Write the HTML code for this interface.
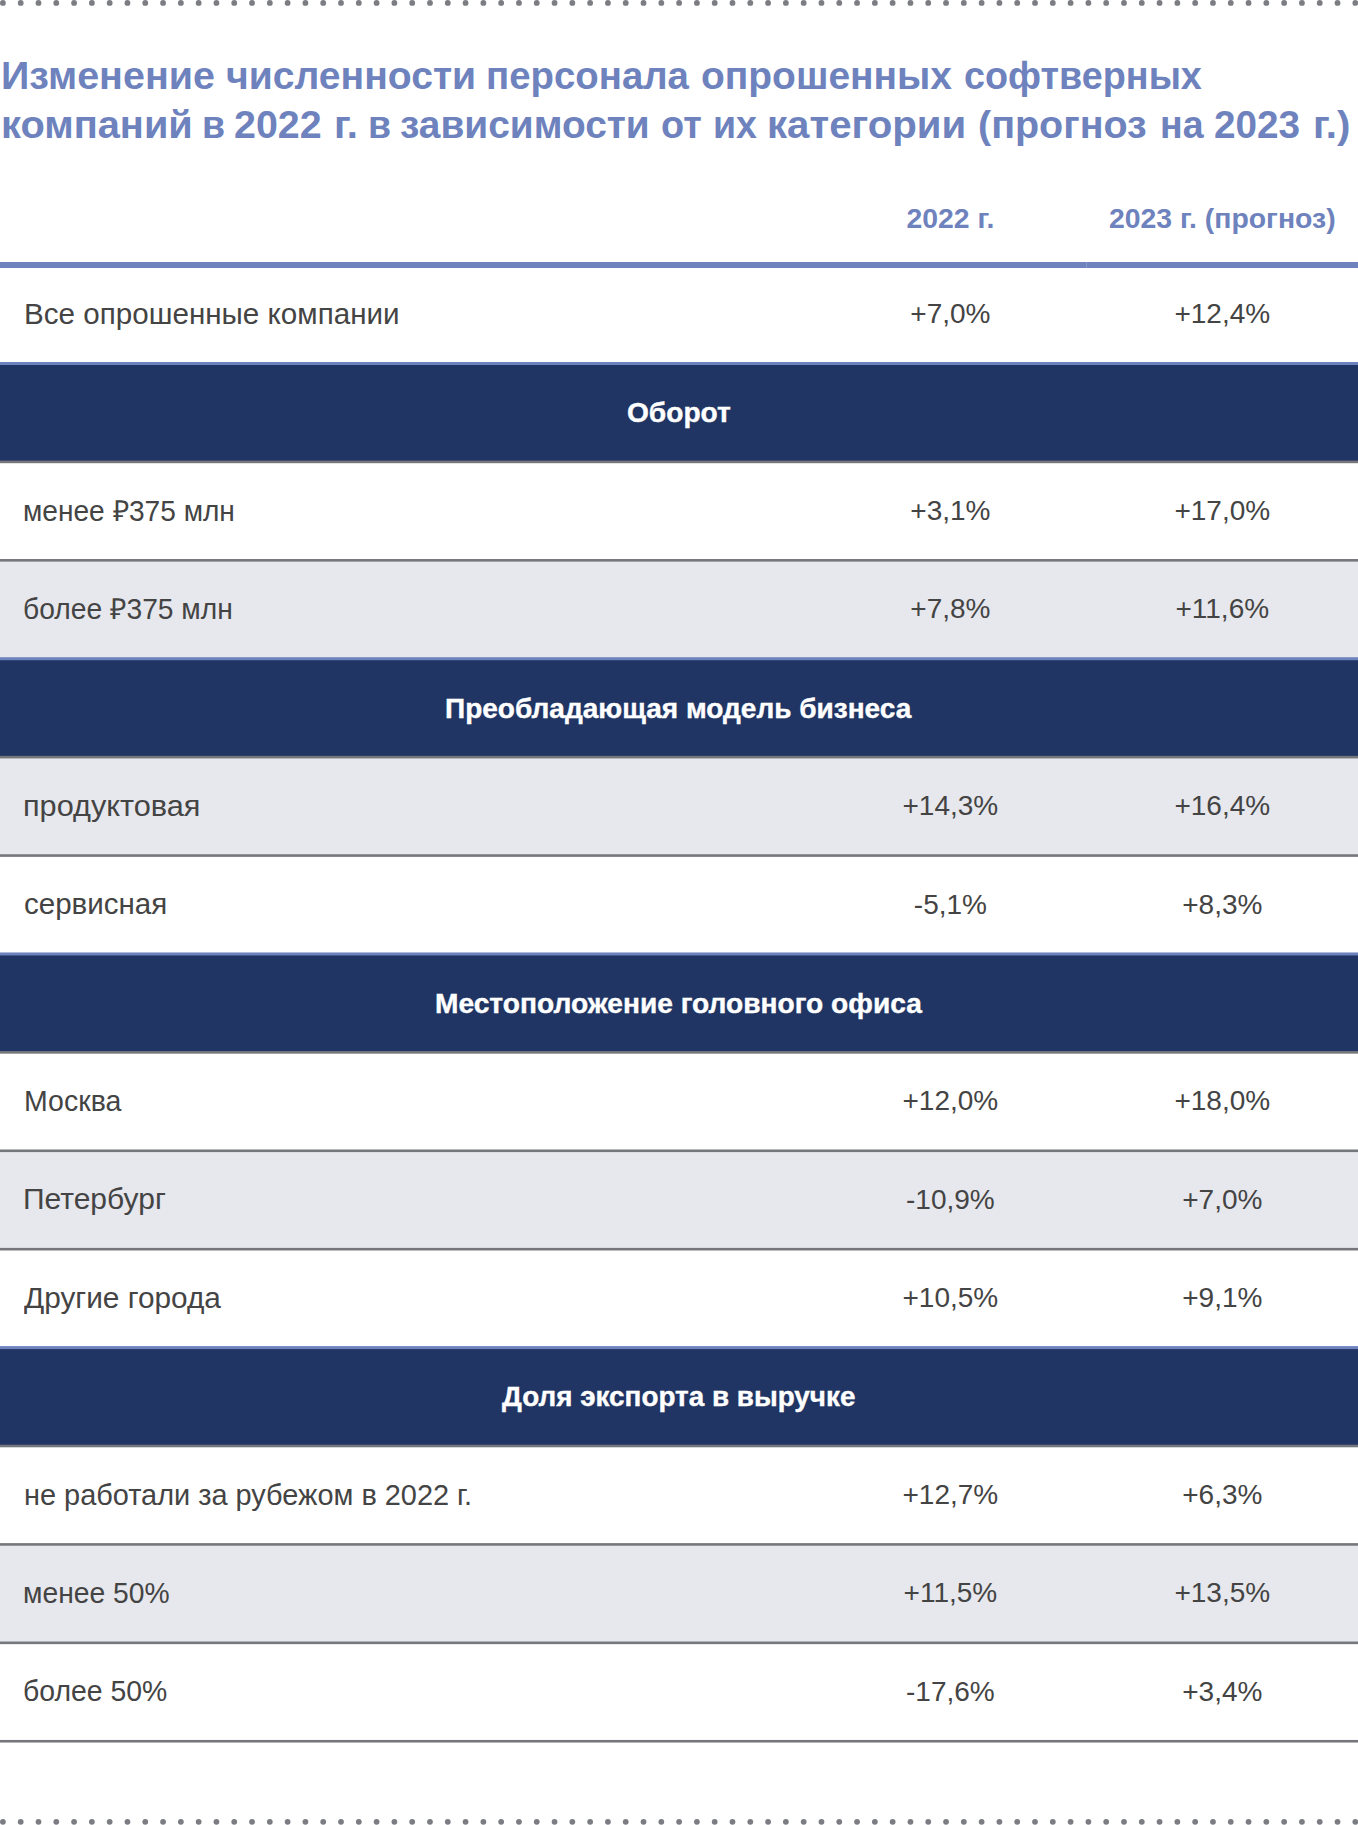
<!DOCTYPE html>
<html lang="ru">
<head>
<meta charset="utf-8">
<style>
html,body{margin:0;padding:0;}
body{width:1358px;height:1825px;position:relative;overflow:hidden;background:#fff;font-family:"Liberation Sans",sans-serif;}
.abs{position:absolute;}
.t{position:absolute;white-space:nowrap;line-height:0;height:0;transform-origin:0 0;}
.title{color:#6e82bd;font-weight:bold;font-size:38.7px;letter-spacing:0.0px;word-spacing:2.8px;left:0;}
.hd{color:#6e82bd;font-weight:bold;font-size:28.4px;width:400px;text-align:center;}
.lbl{color:#444444;font-size:29px;left:24px;}
.val{color:#444444;font-size:28px;width:300px;text-align:center;}
.sec{color:#fff;-webkit-text-stroke:0.4px #fff;font-weight:bold;font-size:28.5px;}
.bg{position:absolute;left:0;width:1358px;}
</style>
</head>
<body>
<svg class="abs" style="left:0;top:0" width="1358" height="1825"><g fill="#7b7d83"><circle cx="2.90" cy="2.9" r="2.9"/><circle cx="2.90" cy="1821.8" r="2.9"/><circle cx="20.70" cy="2.9" r="2.9"/><circle cx="20.70" cy="1821.8" r="2.9"/><circle cx="38.49" cy="2.9" r="2.9"/><circle cx="38.49" cy="1821.8" r="2.9"/><circle cx="56.29" cy="2.9" r="2.9"/><circle cx="56.29" cy="1821.8" r="2.9"/><circle cx="74.08" cy="2.9" r="2.9"/><circle cx="74.08" cy="1821.8" r="2.9"/><circle cx="91.88" cy="2.9" r="2.9"/><circle cx="91.88" cy="1821.8" r="2.9"/><circle cx="109.67" cy="2.9" r="2.9"/><circle cx="109.67" cy="1821.8" r="2.9"/><circle cx="127.47" cy="2.9" r="2.9"/><circle cx="127.47" cy="1821.8" r="2.9"/><circle cx="145.26" cy="2.9" r="2.9"/><circle cx="145.26" cy="1821.8" r="2.9"/><circle cx="163.06" cy="2.9" r="2.9"/><circle cx="163.06" cy="1821.8" r="2.9"/><circle cx="180.85" cy="2.9" r="2.9"/><circle cx="180.85" cy="1821.8" r="2.9"/><circle cx="198.65" cy="2.9" r="2.9"/><circle cx="198.65" cy="1821.8" r="2.9"/><circle cx="216.44" cy="2.9" r="2.9"/><circle cx="216.44" cy="1821.8" r="2.9"/><circle cx="234.24" cy="2.9" r="2.9"/><circle cx="234.24" cy="1821.8" r="2.9"/><circle cx="252.03" cy="2.9" r="2.9"/><circle cx="252.03" cy="1821.8" r="2.9"/><circle cx="269.82" cy="2.9" r="2.9"/><circle cx="269.82" cy="1821.8" r="2.9"/><circle cx="287.62" cy="2.9" r="2.9"/><circle cx="287.62" cy="1821.8" r="2.9"/><circle cx="305.42" cy="2.9" r="2.9"/><circle cx="305.42" cy="1821.8" r="2.9"/><circle cx="323.21" cy="2.9" r="2.9"/><circle cx="323.21" cy="1821.8" r="2.9"/><circle cx="341.00" cy="2.9" r="2.9"/><circle cx="341.00" cy="1821.8" r="2.9"/><circle cx="358.80" cy="2.9" r="2.9"/><circle cx="358.80" cy="1821.8" r="2.9"/><circle cx="376.60" cy="2.9" r="2.9"/><circle cx="376.60" cy="1821.8" r="2.9"/><circle cx="394.39" cy="2.9" r="2.9"/><circle cx="394.39" cy="1821.8" r="2.9"/><circle cx="412.19" cy="2.9" r="2.9"/><circle cx="412.19" cy="1821.8" r="2.9"/><circle cx="429.98" cy="2.9" r="2.9"/><circle cx="429.98" cy="1821.8" r="2.9"/><circle cx="447.78" cy="2.9" r="2.9"/><circle cx="447.78" cy="1821.8" r="2.9"/><circle cx="465.57" cy="2.9" r="2.9"/><circle cx="465.57" cy="1821.8" r="2.9"/><circle cx="483.37" cy="2.9" r="2.9"/><circle cx="483.37" cy="1821.8" r="2.9"/><circle cx="501.16" cy="2.9" r="2.9"/><circle cx="501.16" cy="1821.8" r="2.9"/><circle cx="518.96" cy="2.9" r="2.9"/><circle cx="518.96" cy="1821.8" r="2.9"/><circle cx="536.75" cy="2.9" r="2.9"/><circle cx="536.75" cy="1821.8" r="2.9"/><circle cx="554.55" cy="2.9" r="2.9"/><circle cx="554.55" cy="1821.8" r="2.9"/><circle cx="572.34" cy="2.9" r="2.9"/><circle cx="572.34" cy="1821.8" r="2.9"/><circle cx="590.13" cy="2.9" r="2.9"/><circle cx="590.13" cy="1821.8" r="2.9"/><circle cx="607.93" cy="2.9" r="2.9"/><circle cx="607.93" cy="1821.8" r="2.9"/><circle cx="625.73" cy="2.9" r="2.9"/><circle cx="625.73" cy="1821.8" r="2.9"/><circle cx="643.52" cy="2.9" r="2.9"/><circle cx="643.52" cy="1821.8" r="2.9"/><circle cx="661.32" cy="2.9" r="2.9"/><circle cx="661.32" cy="1821.8" r="2.9"/><circle cx="679.11" cy="2.9" r="2.9"/><circle cx="679.11" cy="1821.8" r="2.9"/><circle cx="696.91" cy="2.9" r="2.9"/><circle cx="696.91" cy="1821.8" r="2.9"/><circle cx="714.70" cy="2.9" r="2.9"/><circle cx="714.70" cy="1821.8" r="2.9"/><circle cx="732.50" cy="2.9" r="2.9"/><circle cx="732.50" cy="1821.8" r="2.9"/><circle cx="750.29" cy="2.9" r="2.9"/><circle cx="750.29" cy="1821.8" r="2.9"/><circle cx="768.09" cy="2.9" r="2.9"/><circle cx="768.09" cy="1821.8" r="2.9"/><circle cx="785.88" cy="2.9" r="2.9"/><circle cx="785.88" cy="1821.8" r="2.9"/><circle cx="803.68" cy="2.9" r="2.9"/><circle cx="803.68" cy="1821.8" r="2.9"/><circle cx="821.47" cy="2.9" r="2.9"/><circle cx="821.47" cy="1821.8" r="2.9"/><circle cx="839.27" cy="2.9" r="2.9"/><circle cx="839.27" cy="1821.8" r="2.9"/><circle cx="857.06" cy="2.9" r="2.9"/><circle cx="857.06" cy="1821.8" r="2.9"/><circle cx="874.86" cy="2.9" r="2.9"/><circle cx="874.86" cy="1821.8" r="2.9"/><circle cx="892.65" cy="2.9" r="2.9"/><circle cx="892.65" cy="1821.8" r="2.9"/><circle cx="910.45" cy="2.9" r="2.9"/><circle cx="910.45" cy="1821.8" r="2.9"/><circle cx="928.24" cy="2.9" r="2.9"/><circle cx="928.24" cy="1821.8" r="2.9"/><circle cx="946.04" cy="2.9" r="2.9"/><circle cx="946.04" cy="1821.8" r="2.9"/><circle cx="963.83" cy="2.9" r="2.9"/><circle cx="963.83" cy="1821.8" r="2.9"/><circle cx="981.63" cy="2.9" r="2.9"/><circle cx="981.63" cy="1821.8" r="2.9"/><circle cx="999.42" cy="2.9" r="2.9"/><circle cx="999.42" cy="1821.8" r="2.9"/><circle cx="1017.22" cy="2.9" r="2.9"/><circle cx="1017.22" cy="1821.8" r="2.9"/><circle cx="1035.01" cy="2.9" r="2.9"/><circle cx="1035.01" cy="1821.8" r="2.9"/><circle cx="1052.81" cy="2.9" r="2.9"/><circle cx="1052.81" cy="1821.8" r="2.9"/><circle cx="1070.60" cy="2.9" r="2.9"/><circle cx="1070.60" cy="1821.8" r="2.9"/><circle cx="1088.40" cy="2.9" r="2.9"/><circle cx="1088.40" cy="1821.8" r="2.9"/><circle cx="1106.19" cy="2.9" r="2.9"/><circle cx="1106.19" cy="1821.8" r="2.9"/><circle cx="1123.99" cy="2.9" r="2.9"/><circle cx="1123.99" cy="1821.8" r="2.9"/><circle cx="1141.78" cy="2.9" r="2.9"/><circle cx="1141.78" cy="1821.8" r="2.9"/><circle cx="1159.58" cy="2.9" r="2.9"/><circle cx="1159.58" cy="1821.8" r="2.9"/><circle cx="1177.37" cy="2.9" r="2.9"/><circle cx="1177.37" cy="1821.8" r="2.9"/><circle cx="1195.17" cy="2.9" r="2.9"/><circle cx="1195.17" cy="1821.8" r="2.9"/><circle cx="1212.96" cy="2.9" r="2.9"/><circle cx="1212.96" cy="1821.8" r="2.9"/><circle cx="1230.76" cy="2.9" r="2.9"/><circle cx="1230.76" cy="1821.8" r="2.9"/><circle cx="1248.55" cy="2.9" r="2.9"/><circle cx="1248.55" cy="1821.8" r="2.9"/><circle cx="1266.35" cy="2.9" r="2.9"/><circle cx="1266.35" cy="1821.8" r="2.9"/><circle cx="1284.14" cy="2.9" r="2.9"/><circle cx="1284.14" cy="1821.8" r="2.9"/><circle cx="1301.94" cy="2.9" r="2.9"/><circle cx="1301.94" cy="1821.8" r="2.9"/><circle cx="1319.73" cy="2.9" r="2.9"/><circle cx="1319.73" cy="1821.8" r="2.9"/><circle cx="1337.53" cy="2.9" r="2.9"/><circle cx="1337.53" cy="1821.8" r="2.9"/><circle cx="1355.32" cy="2.9" r="2.9"/><circle cx="1355.32" cy="1821.8" r="2.9"/></g></svg>
<div class="t title" style="top:76.19px;left:0.96px;transform:scaleX(1.0198)">Изменение</div>
<div class="t title" style="top:76.19px;left:225.59px;transform:scaleX(1.0107)">численности</div>
<div class="t title" style="top:76.19px;left:486.22px;transform:scaleX(0.9916)">персонала</div>
<div class="t title" style="top:76.19px;left:700.99px;transform:scaleX(1.0069)">опрошенных</div>
<div class="t title" style="top:76.19px;left:963.62px;transform:scaleX(0.9757)">софтверных</div>
<div class="t title" style="top:125.19px;left:0.94px;transform:scaleX(1.0291)">компаний</div>
<div class="t title" style="top:125.19px;left:202.32px;transform:scaleX(0.9700)">в</div>
<div class="t title" style="top:125.19px;left:234.38px;transform:scaleX(1.0190)">2022</div>
<div class="t title" style="top:125.19px;left:333.94px;transform:scaleX(1.0400)">г.</div>
<div class="t title" style="top:125.19px;left:368.33px;transform:scaleX(0.9700)">в</div>
<div class="t title" style="top:125.19px;left:400.40px;transform:scaleX(1.0045)">зависимости</div>
<div class="t title" style="top:125.19px;left:660.72px;transform:scaleX(0.9775)">от</div>
<div class="t title" style="top:125.19px;left:712.75px;transform:scaleX(0.9700)">их</div>
<div class="t title" style="top:125.19px;left:766.82px;transform:scaleX(1.0388)">категории</div>
<div class="t title" style="top:125.19px;left:978.46px;transform:scaleX(1.0204)">(прогноз</div>
<div class="t title" style="top:125.19px;left:1159.55px;transform:scaleX(0.9700)">на</div>
<div class="t title" style="top:125.19px;left:1214.00px;transform:scaleX(1.0000)">2023</div>
<div class="t title" style="top:125.19px;left:1313.38px;transform:scaleX(1.0400)">г.)</div>
<div class="t hd" style="top:217.96px;left:750.40px;">2022 г.</div>
<div class="t hd" style="top:217.96px;left:1022.30px;">2023 г. (прогноз)</div>
<div class="abs" style="left:0;top:262px;width:1358px;height:6px;background:#6e82bd"></div>
<div class="abs" style="left:1086px;top:262px;width:1px;height:6px;background:#8797c8"></div>
<div class="t lbl" style="top:313.74px;left:23.96px;transform:scaleX(1.0209)">Все опрошенные компании</div>
<div class="t val" style="top:314.09px;left:800.40px;">+7,0%</div>
<div class="t val" style="top:314.09px;left:1072.30px;">+12,4%</div>
<svg class="abs" style="left:0;top:0" width="1358" height="1825"><rect x="0" y="363.50" width="1358" height="98.41" fill="#203563"/><rect x="0" y="560.32" width="1358" height="98.41" fill="#e7e8ed"/><rect x="0" y="658.73" width="1358" height="98.41" fill="#203563"/><rect x="0" y="757.14" width="1358" height="98.41" fill="#e7e8ed"/><rect x="0" y="953.96" width="1358" height="98.41" fill="#203563"/><rect x="0" y="1150.78" width="1358" height="98.41" fill="#e7e8ed"/><rect x="0" y="1347.60" width="1358" height="98.41" fill="#203563"/><rect x="0" y="1544.42" width="1358" height="98.41" fill="#e7e8ed"/><rect x="0" y="362.00" width="1358" height="3.00" fill="#6e82bd"/><rect x="0" y="460.61" width="1358" height="2.60" fill="#76777c"/><rect x="0" y="559.02" width="1358" height="2.60" fill="#76777c"/><rect x="0" y="657.23" width="1358" height="3.00" fill="#6e82bd"/><rect x="0" y="755.84" width="1358" height="2.60" fill="#76777c"/><rect x="0" y="854.25" width="1358" height="2.60" fill="#76777c"/><rect x="0" y="952.46" width="1358" height="3.00" fill="#6e82bd"/><rect x="0" y="1051.07" width="1358" height="2.60" fill="#76777c"/><rect x="0" y="1149.48" width="1358" height="2.60" fill="#76777c"/><rect x="0" y="1247.89" width="1358" height="2.60" fill="#76777c"/><rect x="0" y="1346.10" width="1358" height="3.00" fill="#6e82bd"/><rect x="0" y="1444.71" width="1358" height="2.60" fill="#76777c"/><rect x="0" y="1543.12" width="1358" height="2.60" fill="#76777c"/><rect x="0" y="1641.53" width="1358" height="2.60" fill="#76777c"/><rect x="0" y="1739.94" width="1358" height="2.60" fill="#76777c"/></svg>
<div class="t sec" style="top:412.32px;left:627.01px;transform:scaleX(0.9865)">Оборот</div>
<div class="t lbl" style="top:510.56px;left:23.46px;transform:scaleX(0.9688)">менее ₽375 млн</div>
<div class="t val" style="top:510.91px;left:800.40px;">+3,1%</div>
<div class="t val" style="top:510.91px;left:1072.30px;">+17,0%</div>
<div class="t lbl" style="top:608.97px;left:23.33px;transform:scaleX(0.9728)">более ₽375 млн</div>
<div class="t val" style="top:609.32px;left:800.40px;">+7,8%</div>
<div class="t val" style="top:609.32px;left:1072.30px;">+11,6%</div>
<div class="t sec" style="top:707.55px;left:445.32px;transform:scaleX(0.9831)">Преобладающая модель бизнеса</div>
<div class="t lbl" style="top:805.79px;left:23.29px;transform:scaleX(1.0573)">продуктовая</div>
<div class="t val" style="top:806.14px;left:800.40px;">+14,3%</div>
<div class="t val" style="top:806.14px;left:1072.30px;">+16,4%</div>
<div class="t lbl" style="top:904.20px;left:23.68px;transform:scaleX(1.0181)">сервисная</div>
<div class="t val" style="top:904.55px;left:800.40px;">-5,1%</div>
<div class="t val" style="top:904.55px;left:1072.30px;">+8,3%</div>
<div class="t sec" style="top:1002.78px;left:435.01px;transform:scaleX(0.9872)">Местоположение головного офиса</div>
<div class="t lbl" style="top:1101.02px;left:24.03px;transform:scaleX(0.9827)">Москва</div>
<div class="t val" style="top:1101.37px;left:800.40px;">+12,0%</div>
<div class="t val" style="top:1101.37px;left:1072.30px;">+18,0%</div>
<div class="t lbl" style="top:1199.43px;left:23.33px;transform:scaleX(1.0346)">Петербург</div>
<div class="t val" style="top:1199.78px;left:800.40px;">-10,9%</div>
<div class="t val" style="top:1199.78px;left:1072.30px;">+7,0%</div>
<div class="t lbl" style="top:1297.84px;left:24.30px;transform:scaleX(1.0276)">Другие города</div>
<div class="t val" style="top:1298.19px;left:800.40px;">+10,5%</div>
<div class="t val" style="top:1298.19px;left:1072.30px;">+9,1%</div>
<div class="t sec" style="top:1396.42px;left:502.00px;transform:scaleX(0.9770)">Доля экспорта в выручке</div>
<div class="t lbl" style="top:1494.66px;left:23.51px;transform:scaleX(0.9966)">не работали за рубежом в 2022 г.</div>
<div class="t val" style="top:1495.01px;left:800.40px;">+12,7%</div>
<div class="t val" style="top:1495.01px;left:1072.30px;">+6,3%</div>
<div class="t lbl" style="top:1593.07px;left:23.45px;transform:scaleX(0.9743)">менее 50%</div>
<div class="t val" style="top:1593.42px;left:800.40px;">+11,5%</div>
<div class="t val" style="top:1593.42px;left:1072.30px;">+13,5%</div>
<div class="t lbl" style="top:1691.48px;left:23.32px;transform:scaleX(0.9788)">более 50%</div>
<div class="t val" style="top:1691.83px;left:800.40px;">-17,6%</div>
<div class="t val" style="top:1691.83px;left:1072.30px;">+3,4%</div>
</body>
</html>
